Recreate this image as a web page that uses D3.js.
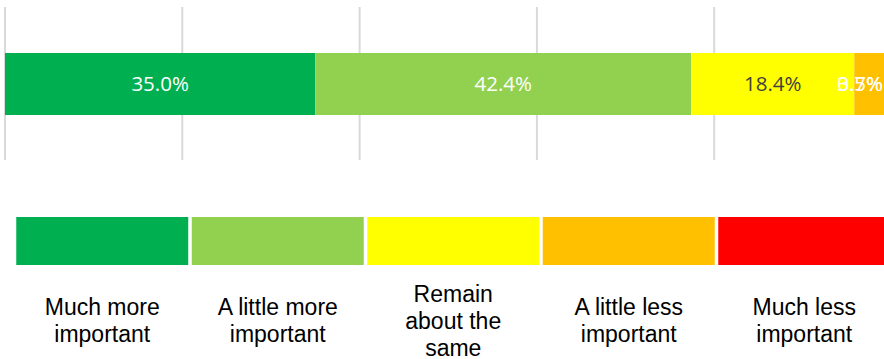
<!DOCTYPE html>
<html>
<head>
<meta charset="utf-8">
<script src="https://cdn.jsdelivr.net/npm/d3@7"></script>
<style>
  html, body { margin: 0; padding: 0; background: #fff; overflow: hidden; }
</style>
</head>
<body>
<div class="chart"></div>
<script>
// data
var categories = ["Much more important", "A little more important", "Remain about the same", "A little less important", "Much less important"];
var values = [35.0, 42.4, 18.4, 3.5, 0.7];
var colors = ["#00b050", "#92d050", "#ffff00", "#ffc000", "#ff0000"];
var labelColors = ["#ffffff", "#ffffff", "#404040", "#ffffff", "#ffffff"];
var legendLines = [["Much more", "important"], ["A little more", "important"], ["Remain", "about the", "same"], ["A little less", "important"], ["Much less", "important"]];
var gridTicks = [0, 20, 40, 60, 80, 100];

var width = 884, height = 359;

var svg = d3.select(".chart")
  .append("svg")
  .attr("width", width)
  .attr("height", height);

// the plot runs a little past the right edge of the window, as in the original
var x = d3.scaleLinear().domain([0, 100]).range([5, 891.5]);

// gridlines
svg.append("g")
  .selectAll("line")
  .data(gridTicks)
  .enter()
  .append("line")
  .attr("x1", function (d) { return x(d); })
  .attr("x2", function (d) { return x(d); })
  .attr("y1", 7)
  .attr("y2", 160)
  .style("stroke", "#d9d9d9")
  .style("stroke-width", 2);

// stacked bar
var stacked = [];
var acc = 0;
values.forEach(function (v, i) {
  stacked.push({ start: acc, end: acc + v, value: v, i: i });
  acc += v;
});

var barTop = 53, barH = 62;

svg.append("g")
  .selectAll("rect")
  .data(stacked)
  .enter()
  .append("rect")
  .attr("x", function (d) { return x(d.start); })
  .attr("y", barTop)
  .attr("width", function (d) { return x(d.end) - x(d.start); })
  .attr("height", barH)
  .style("fill", function (d) { return colors[d.i]; });

var labels = svg.append("g")
  .selectAll("text")
  .data(stacked)
  .enter()
  .append("text")
  .attr("y", barTop + barH / 2)
  .attr("dy", "0.36em")
  .attr("text-anchor", "middle")
  .style("font-family", "'Open Sans', sans-serif")
  .style("font-size", "20.5px")
  .style("fill", function (d) { return labelColors[d.i]; })
  .text(function (d) { return d.value.toFixed(1) + "%"; });

// keep labels inside the visible area, like the spreadsheet does
labels.attr("x", function (d) {
  var cx = x((d.start + d.end) / 2);
  var w = this.getComputedTextLength();
  return Math.min(cx, 883 - w / 2);
});

// legend
var band = d3.scaleBand()
  .domain(categories)
  .range([14.5, 892])
  .paddingInner(0.02)
  .paddingOuter(0.01);

var legend = svg.append("g")
  .selectAll("g")
  .data(categories)
  .enter()
  .append("g");

legend.append("rect")
  .attr("x", function (d) { return band(d); })
  .attr("y", 217)
  .attr("width", band.bandwidth())
  .attr("height", 48)
  .style("fill", function (d, i) { return colors[i]; });

var lineH = 27;
legend.append("text")
  .attr("text-anchor", "middle")
  .style("font-family", "'Liberation Sans', Arial, sans-serif")
  .style("font-size", "23px")
  .style("fill", "#000")
  .each(function (d, i) {
    var lines = legendLines[i];
    var t = d3.select(this);
    lines.forEach(function (line, j) {
      t.append("tspan")
        .attr("x", band(d) + band.bandwidth() / 2)
        .attr("y", 328.5 + (j - (lines.length - 1) / 2) * lineH)
        .text(line);
    });
  });
</script>
</body>
</html>
